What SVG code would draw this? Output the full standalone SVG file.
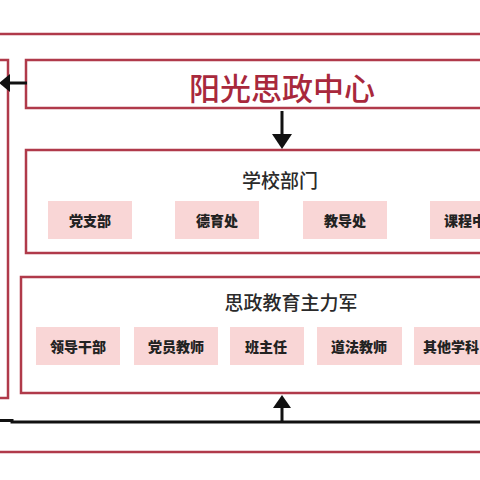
<svg xmlns="http://www.w3.org/2000/svg" width="480" height="480" viewBox="0 0 480 480">
<style>
.frame{fill:none;stroke:#b03a4a;stroke-width:2.5}
.item{fill:#f9d6d6}
.itxt{font-family:"Noto Sans CJK SC","Noto Sans",sans-serif;font-weight:900;font-size:14px;fill:#222;text-anchor:middle;dominant-baseline:central}
.title{font-family:"Noto Sans CJK SC","Noto Sans",sans-serif;font-weight:500;font-size:19px;fill:#2a2a2a;text-anchor:middle;dominant-baseline:central}
.conn{stroke:#111;stroke-width:3;fill:none}
.head{fill:#111}
</style>
<rect width="480" height="480" fill="#fff"/>
<g id="outer-frame">
<rect class="frame" x="-10" y="34" width="510" height="418"/>
</g>
<g id="side-box">
<rect class="frame" x="-20" y="60" width="28" height="338"/>
</g>
<g id="center">
<rect class="frame" x="26" y="60" width="470" height="48"/>
<text x="282" y="86" font-family="'Noto Sans CJK SC','Noto Sans',sans-serif" font-weight="500" font-size="31" fill="#a8283c" text-anchor="middle" dominant-baseline="central">阳光思政中心</text>
</g>
<g id="school">
<rect class="frame" x="26" y="150" width="470" height="103"/>
<text class="title" x="280" y="179">学校部门</text>
<g id="dept1"><rect class="item" x="48" y="201" width="84" height="38"/><text class="itxt" x="90" y="220">党支部</text></g>
<g id="dept2"><rect class="item" x="175" y="201" width="84" height="38"/><text class="itxt" x="217" y="220">德育处</text></g>
<g id="dept3"><rect class="item" x="303" y="201" width="84" height="38"/><text class="itxt" x="345" y="220">教导处</text></g>
<g id="dept4"><rect class="item" x="430" y="201" width="84" height="38"/><text class="itxt" x="444" y="220" style="text-anchor:start">课程中</text></g>
</g>
<g id="force">
<rect class="frame" x="21" y="277" width="475" height="116"/>
<text class="title" x="291" y="301">思政教育主力军</text>
<g id="m1"><rect class="item" x="36" y="327" width="84" height="38"/><text class="itxt" x="78" y="346">领导干部</text></g>
<g id="m2"><rect class="item" x="134" y="327" width="84" height="38"/><text class="itxt" x="176" y="346">党员教师</text></g>
<g id="m3"><rect class="item" x="230" y="327" width="74" height="38"/><text class="itxt" x="266" y="346">班主任</text></g>
<g id="m4"><rect class="item" x="317" y="327" width="85" height="38"/><text class="itxt" x="359" y="346">道法教师</text></g>
<g id="m5"><rect class="item" x="414" y="327" width="84" height="38"/><text class="itxt" x="423" y="346" style="text-anchor:start">其他学科</text></g>
</g>
<g id="connectors">
<line class="conn" x1="27" y1="83" x2="8" y2="83"/>
<polygon class="head" points="10,74 10,92 -1,83"/>
<line class="conn" x1="282" y1="111" x2="282" y2="136"/>
<polygon class="head" points="272,134 292,134 282,149"/>
<polyline class="conn" points="0,420.5 12,420.5 12,422 490,422"/>
<line class="conn" x1="282" y1="422" x2="282" y2="405"/>
<polygon class="head" points="273,408 291,408 282,395"/>
</g>
</svg>
